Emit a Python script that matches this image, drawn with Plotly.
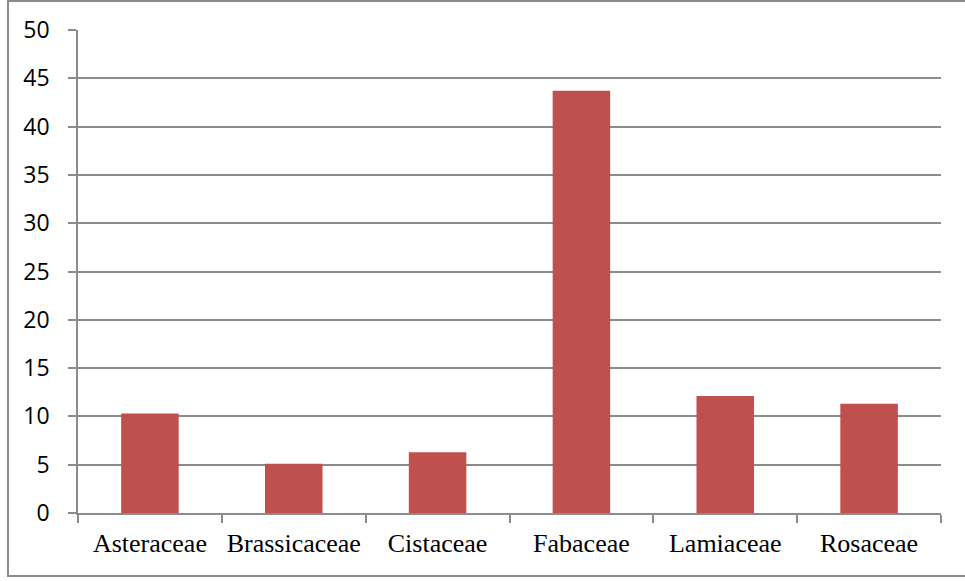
import plotly.graph_objects as go

families = ["Asteraceae", "Brassicaceae", "Cistaceae", "Fabaceae", "Lamiaceae", "Rosaceae"]
values = [10.3, 5.1, 6.3, 43.7, 12.1, 11.3]
y_ticks = [0, 5, 10, 15, 20, 25, 30, 35, 40, 45, 50]

W, H = 965, 581
L, R, T, B = 78, 24, 30, 68
pw, ph = W - L - R, H - T - B

fig = go.Figure(
    go.Bar(
        x=families,
        y=values,
        marker=dict(color="#C0504D", line=dict(width=0)),
        width=0.4,
    )
)

grid = "#8C8C8C"
fig.update_layout(
    width=W,
    height=H,
    margin=dict(l=L, r=R, t=T, b=B),
    plot_bgcolor="white",
    paper_bgcolor="white",
    showlegend=False,
    bargap=0.6,
    xaxis=dict(
        type="category",
        showgrid=False,
        showline=True,
        linecolor=grid,
        linewidth=1.5,
        ticks="outside",
        tickson="boundaries",
        ticklen=8,
        tickwidth=1.5,
        tickcolor=grid,
        tickfont=dict(family="Liberation Serif", size=26, color="black"),
        ticklabelstandoff=6,
    ),
    yaxis=dict(
        range=[0, 50],
        tickvals=y_ticks,
        showgrid=True,
        gridcolor=grid,
        gridwidth=1.5,
        showline=True,
        linecolor=grid,
        linewidth=1.5,
        ticks="outside",
        ticklen=8,
        tickwidth=1.5,
        tickcolor=grid,
        zeroline=False,
        tickfont=dict(family="Open Sans", size=23, color="black"),
        ticklabelstandoff=14,
    ),
    shapes=[
        dict(
            type="rect",
            xref="paper",
            yref="paper",
            x0=(8 - L) / pw,
            x1=(W + 10 - L) / pw,
            y0=(T + ph - 576) / ph,
            y1=(T + ph - 1) / ph,
            line=dict(color=grid, width=2),
            fillcolor="rgba(0,0,0,0)",
            layer="below",
        )
    ],
)

fig.write_html("out.html")
